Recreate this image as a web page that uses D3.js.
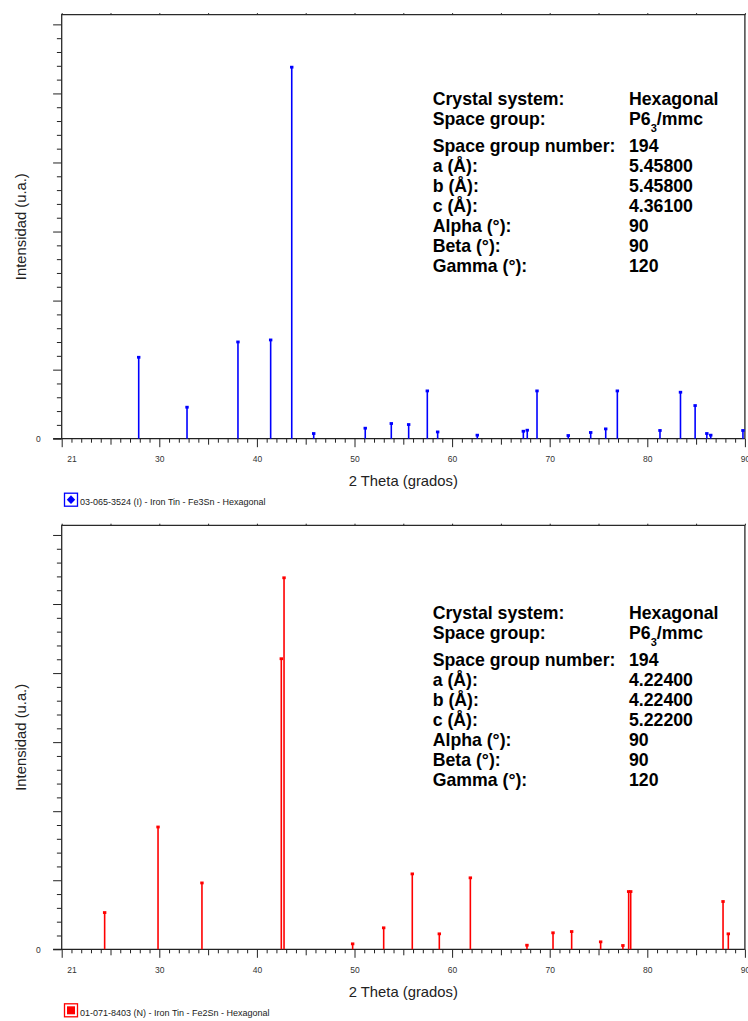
<!DOCTYPE html>
<html>
<head>
<meta charset="utf-8">
<script src="https://cdn.jsdelivr.net/npm/d3@7/dist/d3.min.js"></script>
<style>
  html, body { margin: 0; padding: 0; background: #fff; }
  svg { display: block; font-family: "Liberation Sans", Arial, sans-serif; }
</style>
</head>
<body>
<script>
// ---- Reference pattern data (2θ in degrees, intensity in counts) ----
const xDomain = [20, 90];
const yDomain = [0, 6140];
const xLabelTicks = [21, 30, 40, 50, 60, 70, 80, 90];
const yMajorTicks = [0, 1000, 2000, 3000, 4000, 5000, 6000];

// Fe3Sn, 03-065-3524
const fe3snAngles = [27.89, 32.84, 38.06, 41.41, 43.57, 45.82, 51.10, 53.77, 55.55, 57.46, 58.52, 62.58,
                     67.30, 67.70, 68.70, 71.90, 74.20, 75.74, 76.93, 81.30, 83.40, 84.90, 86.10, 86.50, 89.80];
const fe3snCounts = [1182, 459, 1404, 1433, 5383, 78, 155, 223, 208, 695, 101, 54,
                     111, 126, 695, 49, 93, 145, 695, 122, 676, 483, 78, 54, 122];

// Fe2Sn, 01-071-8403
const fe2snAngles = [24.40, 29.87, 34.37, 42.50, 42.78, 49.81, 52.99, 55.92, 58.69, 61.87,
                     67.67, 70.34, 72.25, 75.22, 77.50, 78.09, 78.30, 87.76, 88.30];
const fe2snCounts = [535, 1774, 964, 4211, 5383, 82, 314, 1095, 227, 1038,
                     62, 242, 260, 111, 58, 839, 839, 695, 227];

// Crystallographic info blocks
const infoLabels = ["Crystal system:", "Space group:", "Space group number:", "a (Å):", "b (Å):",
                    "c (Å):", "Alpha (°):", "Beta (°):", "Gamma (°):"];
const fe3snInfo = ["Hexagonal", "P6|3|/mmc", "194", "5.45800", "5.45800", "4.36100", "90", "90", "120"];
const fe2snInfo = ["Hexagonal", "P6|3|/mmc", "194", "4.22400", "4.22400", "5.22200", "90", "90", "120"];

const legendFe3Sn = "03-065-3524 (I) - Iron Tin - Fe3Sn - Hexagonal";
const legendFe2Sn = "01-071-8403 (N) - Iron Tin - Fe2Sn - Hexagonal";

// ---- Layout ----
const W = 748, H = 1021;
const svg = d3.select("body").append("svg").attr("width", W).attr("height", H);

const plotLeft = 61.7, plotRight = 744.9;
const x = d3.scaleLinear().domain(xDomain).range([plotLeft, plotRight]);

const d1 = d3.range(20, 91, 1);
const minorX = d1.filter(v => v % 5 !== 0);
const mediumX = d1.filter(v => v % 5 === 0 && v % 10 !== 0);
const majorX = d1.filter(v => v % 10 === 0);
const fivesX = d1.filter(v => v % 5 === 0);
const minorY = d3.range(0, 6001, 200).filter(v => v % 1000 !== 0);

function drawPanel(cfg) {
  const top = cfg.top, base = cfg.base;
  const y = d3.scaleLinear().domain(yDomain).range([base, top]);
  const g = svg.append("g");

  const axisStyle = sel => {
    sel.select(".domain").remove();
    sel.selectAll("line").attr("stroke", "#222").attr("stroke-width", 1);
    sel.selectAll("text").attr("fill", "#333").attr("font-family", "Liberation Sans, Arial, sans-serif");
  };

  // bottom axis ticks (1°, 5°, 10°)
  g.append("g").attr("transform", `translate(0,${base})`)
    .call(d3.axisBottom(x).tickValues(minorX).tickSize(4).tickFormat("")).call(axisStyle);
  g.append("g").attr("transform", `translate(0,${base})`)
    .call(d3.axisBottom(x).tickValues(mediumX).tickSize(6).tickFormat("")).call(axisStyle);
  g.append("g").attr("transform", `translate(0,${base})`)
    .call(d3.axisBottom(x).tickValues(majorX).tickSize(8.5).tickFormat("")).call(axisStyle);
  // bottom axis labels
  g.append("g").attr("transform", `translate(0,${base})`)
    .call(d3.axisBottom(x).tickValues(xLabelTicks).tickSize(0).tickPadding(17.6).tickFormat(d3.format("d")))
    .call(axisStyle)
    .selectAll("text").attr("font-size", 8.5);

  // top border small ticks
  g.append("g").attr("transform", `translate(0,${top})`)
    .call(d3.axisTop(x).tickValues(fivesX).tickSize(1.6).tickFormat("")).call(axisStyle);

  // left axis ticks
  g.append("g").attr("transform", `translate(${plotLeft},0)`)
    .call(d3.axisLeft(y).tickValues(minorY).tickSize(4.8).tickFormat("")).call(axisStyle);
  g.append("g").attr("transform", `translate(${plotLeft},0)`)
    .call(d3.axisLeft(y).tickValues(yMajorTicks).tickSize(8.6).tickFormat("")).call(axisStyle);
  g.append("g").attr("transform", `translate(${plotLeft},0)`)
    .call(d3.axisLeft(y).tickValues([0]).tickSize(0).tickPadding(21).tickFormat(d3.format("d")))
    .call(axisStyle)
    .selectAll("text").attr("font-size", 8.5);

  // frame
  g.append("path")
    .attr("d", `M${plotLeft},${base}V${top}H${plotRight}V${base}`)
    .attr("fill", "none").attr("stroke", "#2a2a2a").attr("stroke-width", 1.3);
  g.append("line")
    .attr("x1", plotLeft - 8.6).attr("x2", plotRight).attr("y1", base).attr("y2", base)
    .attr("stroke", "#222").attr("stroke-width", 1.3);

  // stems
  const data = cfg.angles.map((a, i) => ({ a, c: cfg.counts[i] }));
  g.append("g").selectAll("line").data(data).join("line")
    .attr("x1", d => x(d.a)).attr("x2", d => x(d.a))
    .attr("y1", y(0)).attr("y2", d => y(d.c))
    .attr("stroke", cfg.color).attr("stroke-width", 1.6);
  g.append("g").selectAll("rect").data(data).join("rect")
    .attr("x", d => x(d.a) - 1.7).attr("y", d => y(d.c) - 1.2)
    .attr("width", 3.4).attr("height", 2.8)
    .attr("fill", cfg.color);

  // axis titles
  g.append("text")
    .attr("transform", `translate(25.5,${(top + base) / 2}) rotate(-90)`)
    .attr("text-anchor", "middle").attr("font-size", 14.8).attr("fill", "#222")
    .text("Intensidad (u.a.)");
  g.append("text")
    .attr("x", (plotLeft + plotRight) / 2).attr("y", base + 47.5)
    .attr("text-anchor", "middle").attr("font-size", 14.8).attr("fill", "#222")
    .text("2 Theta (grados)");

  // legend entry
  const lg = g.append("g").attr("transform", `translate(64,${base + 54})`);
  lg.append("rect").attr("x", 0.5).attr("y", 0.5).attr("width", 13).attr("height", 13)
    .attr("fill", "#fff").attr("stroke", cfg.color).attr("stroke-width", 1.3);
  if (cfg.marker === "diamond") {
    lg.append("path").attr("d", "M7,2.6L11.2,7L7,11.4L2.8,7Z").attr("fill", cfg.color);
  } else {
    lg.append("rect").attr("x", 3).attr("y", 3).attr("width", 8).attr("height", 8).attr("fill", cfg.color);
  }
  lg.append("text").attr("x", 16).attr("y", 12.5).attr("font-size", 9).attr("fill", "#222")
    .text(cfg.legend);

  // info block
  const baselines = [0, 20, 46.4, 66.4, 86.4, 106.4, 126.4, 146.4, 166.4];
  const ib = g.append("g").attr("font-weight", "bold").attr("font-size", 17.7).attr("fill", "#000");
  infoLabels.forEach((lab, i) => {
    ib.append("text").attr("x", 432.7).attr("y", cfg.infoTop + baselines[i]).text(lab);
    const val = cfg.info[i];
    const t = ib.append("text").attr("x", 629).attr("y", cfg.infoTop + baselines[i]);
    if (val.includes("|")) {
      const parts = val.split("|");
      t.append("tspan").text(parts[0]);
      t.append("tspan").attr("font-size", 11).attr("dy", 6.4).text(parts[1]);
      t.append("tspan").attr("dy", -6.4).text(parts[2]);
    } else {
      t.text(val);
    }
  });
}

drawPanel({
  top: 14.7, base: 438.7, angles: fe3snAngles, counts: fe3snCounts,
  color: "#0000ff", marker: "diamond", legend: legendFe3Sn,
  info: fe3snInfo, infoTop: 105.3
});
drawPanel({
  top: 525.3, base: 949.3, angles: fe2snAngles, counts: fe2snCounts,
  color: "#ff0000", marker: "square", legend: legendFe2Sn,
  info: fe2snInfo, infoTop: 619.3
});
</script>
</body>
</html>
